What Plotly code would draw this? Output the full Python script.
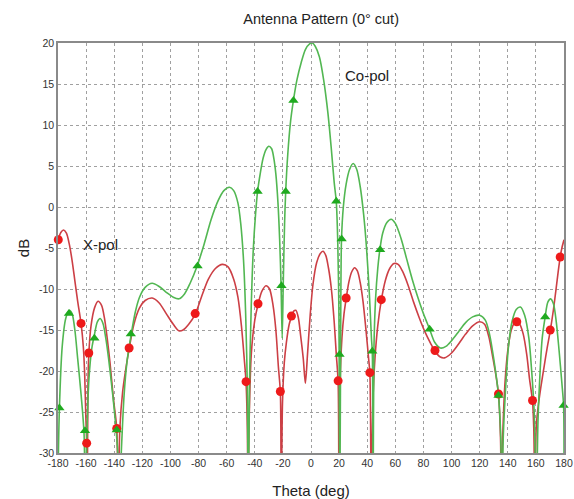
import plotly.graph_objects as go

# ---- Co-pol curve (green) ----
co_theta = [-180.0, -179, -177, -174.5, -172, -170, -168, -166, -163.5, -161.5, -160.5, -159.5, -158, -156, -154,
            -152, -150, -148, -146, -144, -141, -139, -137.5, -136.5, -135, -133, -131, -128, -125, -122, -118,
            -113, -108, -103, -98, -94, -90, -86, -81, -76, -71, -66, -62, -58, -55, -52, -50, -48, -46.5, -45.3,
            -44.6, -43.8, -42.5, -41, -39.5, -38, -36, -34, -32, -30, -28, -26.5, -25, -23.5, -22.3, -21.3, -20.5,
            -19.7, -18.8, -18, -16.5, -14.5, -12.5, -10, -7, -4, -1, 1, 3, 6, 9, 12, 14.5, 16.5, 18, 19, 19.8,
            20.5, 21.0, 21.7, 23, 25, 27.5, 30, 32.5, 35, 37.5, 39.5, 41.5, 43, 43.6, 44.2, 44.8, 46, 47.5, 49,
            51, 54, 57, 60, 64, 68, 72, 76, 80, 84.4, 88, 92, 96, 100, 105, 110, 115, 120, 124, 127, 130, 133.4,
            135, 135.8, 136.8, 138.5, 140.5, 143, 146, 149, 152, 155, 157, 158.8, 160.3, 161.5, 163, 164.5,
            166.6, 168.5, 170.5, 172.5, 174.5, 176.5, 178.5, 179.7, 180]
co_db = [-33, -24.5, -17, -13.6, -12.6, -13, -15, -18.5, -23, -27.5, -36, -28, -21, -17.3, -15.5,
         -14, -13.6, -14.2, -16, -18.5, -23, -26.5, -30, -36, -30, -23, -19, -15.6, -12.8, -11, -9.8,
         -9.3, -9.7, -10.4, -11, -11.2, -10.6, -9.3, -7.2, -4.5, -1.5, 0.8, 2.0, 2.4, 2.0, 0.5, -2, -6.5, -13, -22,
         -36, -22, -12, -5, -1, 1.9, 4.2, 6.0, 7.0, 7.4, 7.1, 6, 4, 0.5, -4, -9.5, -16,
         -9, -2, 1.9, 6.5, 10.5, 13, 15.5, 17.6, 19.2, 19.9, 20.0, 19.6, 18.3, 15.5, 11.5, 7, 3, 0.6, -4, -12,
         -36, -20, -4, 0, 2.8, 4.6, 5.3, 4.6, 2.5, -1.0, -5, -10.5, -16, -17.6, -36, -17, -11, -7.5, -5.2,
         -3.2, -1.9, -1.5, -2.0, -3.8, -6.3, -8.8, -11, -13, -14.9, -16.5, -17.2, -17.0, -16.3, -15.2, -14.1, -13.4, -13.2, -13.8, -15.5, -18.5, -23,
         -28, -36, -28, -22, -17, -14, -12.5, -12.2, -13.2, -16, -20, -25, -36, -26, -20, -16,
         -13.4, -11.6, -11.2, -11.8, -14, -17.5, -21.5, -24.2, -33]

# ---- X-pol curve (red) ----
x_theta = [-180, -178, -176, -174, -172, -170, -168, -166, -163.6, -162, -161, -160.3, -159.6, -159.2, -158.7, -158.1,
           -156.5, -154, -151.5, -149, -147, -145, -143, -140.5, -138.2, -137.2, -136, -134, -132, -129.4, -126, -122,
           -118, -113, -108, -103, -98, -94, -91, -87, -82.4, -78, -73, -68, -63, -59, -55, -52, -49.5, -47.5, -46.2,
           -45.3, -44.8, -44, -42.5, -40, -37.7, -35, -32, -29.5, -27, -25, -23.2, -21.8, -21.2, -20.3, -19, -17.5,
           -15.5, -13.9, -12.3, -10.8, -9, -7.5, -5.5, -4, -2.5, -0.5, 1.5, 4, 6.5, 8.5, 10.5, 12.5, 14.5, 16.5, 18,
           19.3, 19.9, 20.6, 22, 23.5, 25, 27, 29, 31, 33, 35, 37, 39, 41, 41.9, 42.9, 44, 45.5, 47.5, 50, 53, 56, 59,
           62, 65, 69, 73, 77, 81, 85, 88.2, 92, 95, 100, 105, 110, 115, 120, 123.5, 126.5, 129.5, 132, 133.4, 134.8,
           135.5, 136.4, 138, 140, 142.5, 144.5, 146.4, 148.5, 151, 153.5, 155.5, 157.6, 158.5, 159.3, 160.2, 161.5,
           163.5, 166, 168, 170.2, 172.5, 174.5, 176, 177.3, 178.5, 180]
x_db = [-4.0, -3.1, -2.8, -3.2, -4.5, -6.5, -9, -11.5, -14.2, -17, -20.5, -25, -28.8, -36, -22, -18,
        -14.5, -12.3, -11.5, -12, -13.5, -16, -19, -23.5, -27.0, -36, -27, -22.5, -20, -17.3, -14.3, -12.3,
        -11.4, -11.1, -11.7, -13, -14.3, -15.1, -15.0, -14.3, -13.1, -11, -8.8, -7.5, -7.0, -7.3, -8.8, -11, -14.5, -18.5, -21.4,
        -27, -36, -26, -18, -13.8, -11.9, -10.3, -9.6, -10, -12, -15, -19.5, -22.6, -36, -24, -19, -16.5,
        -14.3, -13.4, -12.7, -12.6, -13.5, -15.5, -18.5, -21.5, -18, -13, -9.3, -6.8, -5.7, -5.4, -5.9, -7.5, -10, -14, -18,
        -21.3, -36, -22, -16, -13, -11.2, -9.1, -7.9, -7.4, -7.8, -9.2, -11.5, -14.8, -18.5, -20.3, -36, -24, -18.5, -14.5, -11.4, -8.9, -7.5, -6.9,
        -7.0, -7.8, -9.5, -11.6, -13.5, -15.2, -16.6, -17.6, -18.3, -18.4, -17.8, -16.7, -15.5, -14.5, -14.0, -14.3, -15.8, -18.5, -21, -22.8, -28,
        -36, -28, -21.5, -17.5, -15, -14.2, -14.0, -14.3, -15.5, -18, -21, -23.7, -27, -36, -27, -24.5,
        -22, -19.3, -17.2, -15.1, -12.5, -9.8, -7.7, -6.1, -5, -4.0]

# ---- Marker positions ----
co_mk_theta = [-179, -172.2, -160.8, -154.1, -138.2, -128.2, -80.7, -38, -21, -18, -12.5, 18.0, 20.3, 21.8,
               43.6, 49.2, 84.4, 133.4, 166.6, 179.7]
co_mk_db = [-24.5, -13.0, -27.3, -16.0, -27.2, -15.5, -7.2, 1.9, -9.6, 1.9, 13.0, 0.7, -18.0, -3.9,
            -17.6, -5.2, -14.9, -23.0, -13.4, -24.2]
x_mk_theta = [-179.8, -163.6, -159.6, -158.1, -138.2, -129.4, -82.4, -46.2, -37.7, -21.8, -13.9, 19.3, 25.0,
              41.9, 50.0, 88.2, 133.4, 146.4, 157.6, 170.2, 177.3]
x_mk_db = [-4.0, -14.2, -28.8, -17.8, -27.0, -17.2, -13.0, -21.3, -11.8, -22.5, -13.3, -21.2, -11.1,
           -20.2, -11.3, -17.5, -22.8, -14.0, -23.6, -15.0, -6.1]

x_ticks = list(range(-180, 181, 20))
y_ticks = list(range(-30, 21, 5))

GREEN_LINE = "#52b752"
GREEN_MK = "#1faa1f"
RED_LINE = "#cc3f45"
RED_MK = "#ee1a1a"
FONT = "Liberation Sans, Arial, sans-serif"

fig = go.Figure()
fig.add_trace(go.Scatter(x=x_theta, y=x_db, mode="lines",
                         line=dict(color=RED_LINE, width=1.6, shape="spline", smoothing=0.8),
                         hoverinfo="skip"))
fig.add_trace(go.Scatter(x=co_theta, y=co_db, mode="lines",
                         line=dict(color=GREEN_LINE, width=1.6, shape="spline", smoothing=0.8),
                         hoverinfo="skip"))
fig.add_trace(go.Scatter(x=x_mk_theta, y=x_mk_db, mode="markers",
                         marker=dict(symbol="circle", size=9, color=RED_MK), cliponaxis=False))
fig.add_trace(go.Scatter(x=co_mk_theta, y=co_mk_db, mode="markers",
                         marker=dict(symbol="triangle-up", size=9, color=GREEN_MK), cliponaxis=False))

fig.add_annotation(x=40, y=16, text="Co-pol", showarrow=False,
                   font=dict(family=FONT, size=15, color="#222"), xanchor="center", yanchor="middle")
fig.add_annotation(x=-149.5, y=-4.6, text="X-pol", showarrow=False,
                   font=dict(family=FONT, size=15, color="#222"), xanchor="center", yanchor="middle")

fig.update_layout(
    width=574, height=499,
    margin=dict(l=58, r=10, t=43, b=46),
    paper_bgcolor="white", plot_bgcolor="white",
    showlegend=False,
    font=dict(family=FONT, size=11, color="#333"),
    title=dict(text="Antenna Pattern (0° cut)", x=0.52, xref="paper", xanchor="center",
               y=1 - 19 / 499, yref="container", yanchor="middle",
               font=dict(family=FONT, size=14.5, color="#222")),
)
fig.update_xaxes(range=[-180, 180], tickvals=x_ticks, ticktext=[str(v) for v in x_ticks],
                 showgrid=True, gridcolor="#a0a0a0", griddash="dot", gridwidth=1,
                 showline=True, linecolor="#8a8a8a", linewidth=1.5, mirror=True,
                 zeroline=False, ticks="", tickfont=dict(size=10.5, color="#333"),
                 title=dict(text="Theta (deg)", font=dict(family=FONT, size=15, color="#222"), standoff=18),
                 automargin=False)
fig.update_yaxes(range=[-30, 20], tickvals=y_ticks, ticktext=[str(v) for v in y_ticks],
                 showgrid=True, gridcolor="#a0a0a0", griddash="dot", gridwidth=1,
                 showline=True, linecolor="#8a8a8a", linewidth=1.5, mirror=True,
                 zeroline=False, ticks="", tickfont=dict(size=10.5, color="#333"),
                 title=dict(text="dB", font=dict(family=FONT, size=15, color="#222"), standoff=6),
                 automargin=False)

fig.write_html("out.html")
